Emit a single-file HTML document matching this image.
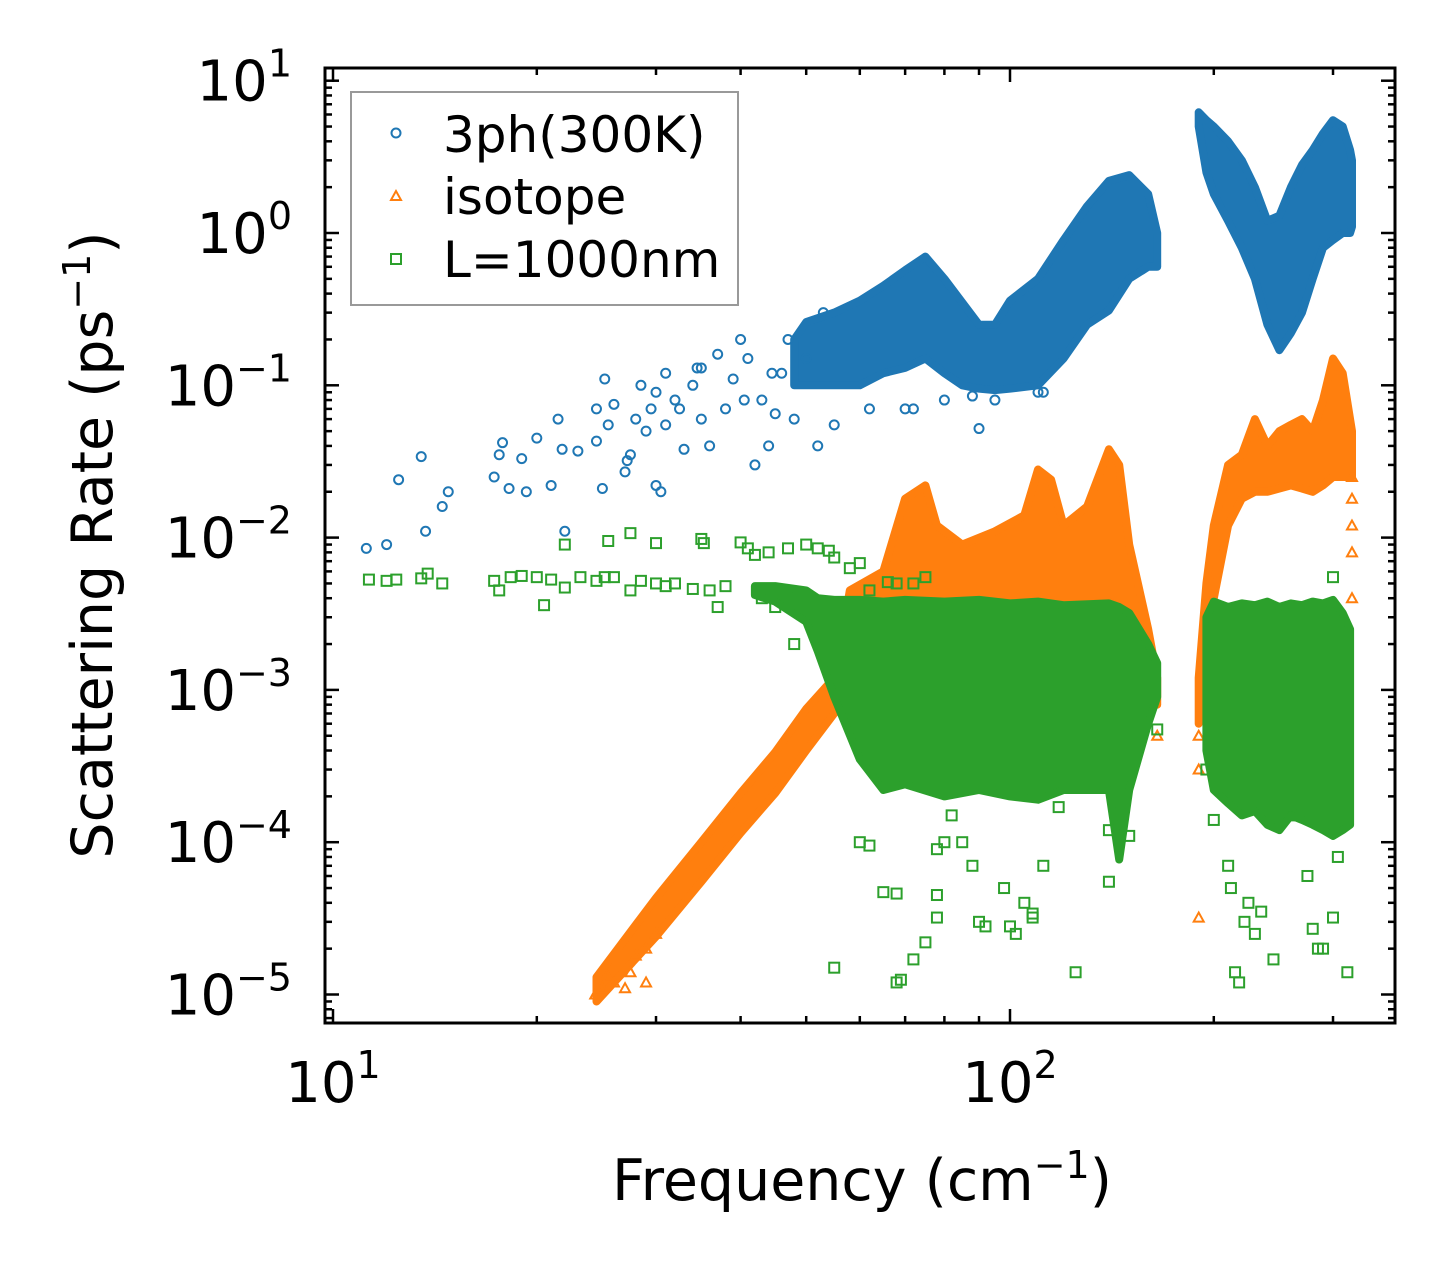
<!DOCTYPE html>
<html><head><meta charset="utf-8"><style>
html,body{margin:0;padding:0;background:#fff;}
svg{display:block;font-family:"DejaVu Sans","Liberation Sans",sans-serif;}
</style></head><body>
<svg id="chart" width="1455" height="1273" viewBox="0 0 1455 1273">
<g id="marks"></g>
<g id="axes"></g>
<g>
<rect x="351" y="92" width="387" height="213" fill="#fff" fill-opacity="0.8" stroke="#999" stroke-width="2"/>
<circle cx="396" cy="133" r="4.5" fill="none" stroke="#1f77b4" stroke-width="2"/>
<text x="443" y="152" font-size="50">3ph(300K)</text>
<polygon points="396,191 391,200 401,200" fill="none" stroke="#ff7f0e" stroke-width="2"/>
<text x="443" y="214" font-size="50">isotope</text>
<rect x="391" y="254" width="10" height="10" fill="none" stroke="#2ca02c" stroke-width="2"/>
<text x="443" y="277" font-size="50">L=1000nm</text>
</g>
<text x="862" y="1200" font-size="57" text-anchor="middle">Frequency (cm<tspan dy="-22" font-size="38">−1</tspan><tspan dy="22">)</tspan></text>
<text transform="translate(112,545) rotate(-90)" font-size="57" text-anchor="middle">Scattering Rate (ps<tspan dy="-22" font-size="38">−1</tspan><tspan dy="22">)</tspan></text>
</svg>
<script>
// ---- data ----
const blue1F=[48,50,55,60,65,70,75,80,85,90,95,100,110,120,130,140,150,160,165];
const blue1Hi=[0.2,0.26,0.3,0.36,0.45,0.57,0.7,0.5,0.35,0.25,0.25,0.36,0.5,0.9,1.5,2.2,2.4,1.8,1.0];
const blue1Lo=[0.1,0.1,0.1,0.1,0.12,0.13,0.15,0.12,0.1,0.095,0.093,0.095,0.1,0.15,0.25,0.31,0.5,0.6,0.6];
const blue2F=[190,195,200,210,220,230,240,250,260,270,280,290,300,310,318,320];
const blue2Hi=[6.2,5.5,5,4,3,2,1.2,1.3,2,2.8,3.5,4.5,5.5,5,3.5,3];
const blue2Lo=[5,2.5,1.8,1.2,0.8,0.5,0.25,0.17,0.22,0.3,0.5,0.8,0.9,1.0,1.0,1.1];
const oRampF=[24.5,30,35,40,45,50,55];
const oRampHi=[1.3e-5,4.3e-5,1e-4,2.1e-4,3.9e-4,7.5e-4,1.2e-3];
const oRampLo=[9e-6,2.4e-5,5.5e-5,1.15e-4,2.1e-4,4e-4,7e-4];
const o1F=[55,58,65,70,75,78,85,95,105,110,115,120,130,140,145,150,160,165];
const o1Hi=[1.1e-3,4.5e-3,6e-3,0.018,0.022,0.012,0.009,0.011,0.014,0.028,0.024,0.012,0.016,0.038,0.03,0.009,2.5e-3,1.2e-3];
const o1Lo=[8e-4,2e-3,2.6e-3,2.9e-3,3e-3,3e-3,3e-3,3.2e-3,3.3e-3,3.4e-3,3.5e-3,3.5e-3,3.6e-3,3.8e-3,3.5e-3,3e-3,1.3e-3,8e-4];
const o2F=[190,195,200,210,220,230,240,250,260,270,280,290,300,310,320];
const o2Hi=[1.2e-3,5e-3,0.012,0.03,0.035,0.06,0.04,0.05,0.055,0.06,0.05,0.08,0.15,0.12,0.05];
const o2Lo=[6e-4,1.5e-3,4e-3,0.012,0.018,0.02,0.02,0.021,0.022,0.021,0.02,0.022,0.025,0.025,0.025];
const g1F=[42,45,50,52,55,60,65,70,80,90,100,110,120,140,145,150,160,165];
const g1Hi=[4.8e-3,4.8e-3,4.5e-3,4e-3,3.9e-3,3.9e-3,3.8e-3,3.9e-3,3.8e-3,3.9e-3,3.7e-3,3.8e-3,3.6e-3,3.7e-3,3.5e-3,3.2e-3,2e-3,1.5e-3];
const g1Lo=[4.2e-3,3.8e-3,2.8e-3,1.8e-3,9e-4,3.5e-4,2.2e-4,2.4e-4,2e-4,2.2e-4,2e-4,1.9e-4,2.2e-4,2.2e-4,7.7e-5,2.2e-4,6e-4,9e-4];
const g2F=[195,200,210,220,230,240,250,260,270,280,290,300,310,318];
const g2Hi=[3e-3,3.8e-3,3.5e-3,3.7e-3,3.6e-3,3.8e-3,3.5e-3,3.7e-3,3.6e-3,3.8e-3,3.7e-3,3.9e-3,3.2e-3,2.5e-3];
const g2Lo=[4e-4,2.2e-4,1.8e-4,1.5e-4,1.6e-4,1.3e-4,1.2e-4,1.5e-4,1.4e-4,1.3e-4,1.2e-4,1.1e-4,1.2e-4,1.3e-4];
const blueF=[11.2,12,12.5,13.5,13.7,14.5,14.8,17.3,17.6,17.8,18.2,19,19.3,20,21,21.5,21.8,22,23,24.5,24.5,25,25.2,25.5,26,27,27.2,27.5,28,28.5,29,29.5,30,30,30.5,31,31,32,32.5,33,34,34.5,35,35,36,37,38,39,40,40.5,41,42,43,44,44.5,45,46,47,48,50,52,53,55,62,70,72,80,88,90,95,110,112];
const blueV=[0.0085,0.009,0.024,0.034,0.011,0.016,0.02,0.025,0.035,0.042,0.021,0.033,0.02,0.045,0.022,0.06,0.038,0.011,0.037,0.07,0.043,0.021,0.11,0.055,0.075,0.027,0.032,0.035,0.06,0.1,0.05,0.07,0.09,0.022,0.02,0.12,0.055,0.08,0.07,0.038,0.1,0.13,0.13,0.06,0.04,0.16,0.07,0.11,0.2,0.08,0.15,0.03,0.08,0.04,0.12,0.065,0.12,0.2,0.06,0.15,0.04,0.3,0.055,0.07,0.07,0.07,0.08,0.085,0.052,0.08,0.09,0.09];
const orangeF=[24.4,25,25.5,26,27,27.5,28,29,29,30,165,190,190,190,320,320,320,320,320];
const orangeV=[1e-5,1.1e-5,1.3e-5,1.2e-5,1.1e-5,1.4e-5,1.8e-5,2e-5,1.2e-5,2.5e-5,5e-4,3.2e-5,3e-4,5e-4,0.025,0.012,0.008,0.004,0.018];
const greenF=[11.3,12,12.4,13.5,13.8,14.5,17.3,17.6,18.3,19,20,20.5,21,22,22,23.2,24.5,25.2,25.5,26,27.5,27.5,28.5,30,30,31,32,34,35,35.3,36,37,38,40,41,42,43,44,45,47,48,50,52,54,55,58,60,62,66,68,72,75,55,60,62,65,68,68,69,72,75,78,78,78,80,82,85,88,90,92,98,100,102,105,108,108,112,118,125,140,140,150,165,195,200,210,212,215,218,222,225,230,235,245,260,275,280,285,290,300,305,315,300];
const greenV=[0.0053,0.0052,0.0053,0.0054,0.0058,0.005,0.0052,0.0045,0.0055,0.0056,0.0055,0.0036,0.0053,0.0047,0.009,0.0055,0.0052,0.0055,0.0095,0.0055,0.0107,0.0045,0.0052,0.0092,0.005,0.0048,0.005,0.0046,0.0098,0.0092,0.0045,0.0035,0.0048,0.0093,0.0085,0.0077,0.004,0.008,0.0035,0.0085,0.002,0.009,0.0085,0.0082,0.0074,0.0063,0.0068,0.0045,0.0051,0.005,0.005,0.0055,1.5e-5,1e-4,9.5e-5,4.7e-5,4.6e-5,1.2e-5,1.25e-5,1.7e-5,2.2e-5,3.2e-5,4.5e-5,9e-5,1e-4,1.5e-4,1e-4,7e-5,3e-5,2.8e-5,5e-5,2.8e-5,2.5e-5,4e-5,3.4e-5,3.2e-5,7e-5,1.7e-4,1.4e-5,5.5e-5,1.2e-4,1.1e-4,5.5e-4,3e-4,1.4e-4,7e-5,5e-5,1.4e-5,1.2e-5,3e-5,4e-5,2.5e-5,3.5e-5,1.7e-5,1.5e-4,6e-5,2.7e-5,2e-5,2e-5,3.2e-5,8e-5,1.4e-5,5.5e-3];
const xTickLabels=["1","2"];
const yTickExps=[1,0,-1,-2,-3,-4,-5];

// ---- axes ----
const L=325,R=1395,T=68,B=1023;
const X=f=>333+677*(Math.log10(f)-1);
const Y=v=>233-152.3*Math.log10(v);
const NS="http://www.w3.org/2000/svg";
const marks=document.getElementById('marks'), axes=document.getElementById('axes');
function mk(tag,attrs,parent){const e=document.createElementNS(NS,tag);for(const k in attrs)e.setAttribute(k,attrs[k]);parent.appendChild(e);return e;}

function band(F,Hi,Lo,color,name){
  const pts=[];
  for(let i=0;i<F.length;i++)pts.push(X(F[i]).toFixed(1)+','+Y(Hi[i]).toFixed(1));
  for(let i=F.length-1;i>=0;i--)pts.push(X(F[i]).toFixed(1)+','+Y(Lo[i]).toFixed(1));
  const p=mk('polygon',{points:pts.join(' '),fill:color,stroke:color,'stroke-width':8,'stroke-linejoin':'round'},marks);
  
  
}
function scatter(F,V,shape,color,name){
  for(let i=0;i<F.length;i++){
    const x=X(F[i]),y=Y(V[i]);let e;
    if(shape==='c')e=mk('circle',{cx:x,cy:y,r:4.5,fill:'none',stroke:color,'stroke-width':2},marks);
    else if(shape==='t')e=mk('polygon',{points:`${x},${y-5} ${x-5},${y+4} ${x+5},${y+4}`,fill:'none',stroke:color,'stroke-width':2},marks);
    else e=mk('rect',{x:x-5,y:y-5,width:10,height:10,fill:'none',stroke:color,'stroke-width':2},marks);
    
    
  }
}
band(blue1F,blue1Hi,blue1Lo,'#1f77b4','3ph-dense-band-low');
band(blue2F,blue2Hi,blue2Lo,'#1f77b4','3ph-dense-band-high');
scatter(blueF,blueV,'c','#1f77b4','3ph-point');
band(oRampF,oRampHi,oRampLo,'#ff7f0e','isotope-ramp-band');
band(o1F,o1Hi,o1Lo,'#ff7f0e','isotope-dense-band-low');
band(o2F,o2Hi,o2Lo,'#ff7f0e','isotope-dense-band-high');
scatter(orangeF,orangeV,'t','#ff7f0e','isotope-point');
band(g1F,g1Hi,g1Lo,'#2ca02c','boundary-dense-band-low');
band(g2F,g2Hi,g2Lo,'#2ca02c','boundary-dense-band-high');
scatter(greenF,greenV,'s','#2ca02c','boundary-point');

// frame
const fr=mk('rect',{x:L,y:T,width:R-L,height:B-T,fill:'none',stroke:'#000','stroke-width':3},axes);


for(let d=1;d<=2;d++){for(let m=1;m<=9;m++){const f=m*Math.pow(10,d);const x=X(f);if(x<L||x>R)continue;
  const len=m===1?14:7;
  const t1=mk('line',{x1:x,y1:B,x2:x,y2:B-len,stroke:'#000','stroke-width':2.5},axes);
  
  
  const t2=mk('line',{x1:x,y1:T,x2:x,y2:T+len,stroke:'#000','stroke-width':2.5},axes);
  
  
}}
xTickLabels.forEach((s,i)=>{const x=X(Math.pow(10,i+1));
  const t=mk('text',{x:x,y:1102,'font-size':56,'text-anchor':'middle'},axes);
  t.innerHTML='10<tspan dy="-24" font-size="38">'+s+'</tspan>';
  
  
});
for(let d=-6;d<=1;d++){for(let m=1;m<=9;m++){const v=m*Math.pow(10,d);const y=Y(v);if(y<T||y>B)continue;
  const len=m===1?14:7;
  const t1=mk('line',{x1:L,y1:y,x2:L+len,y2:y,stroke:'#000','stroke-width':2.5},axes);
  
  
  const t2=mk('line',{x1:R,y1:y,x2:R-len,y2:y,stroke:'#000','stroke-width':2.5},axes);
  
  
}}
yTickExps.forEach(e=>{const y=Y(Math.pow(10,e));
  const t=mk('text',{x:292,y:y+20,'font-size':56,'text-anchor':'end'},axes);
  t.innerHTML='10<tspan dy="-24" font-size="38">'+(e<0?'−'+(-e):e)+'</tspan>';
  
  
});
</script>
</body></html>
